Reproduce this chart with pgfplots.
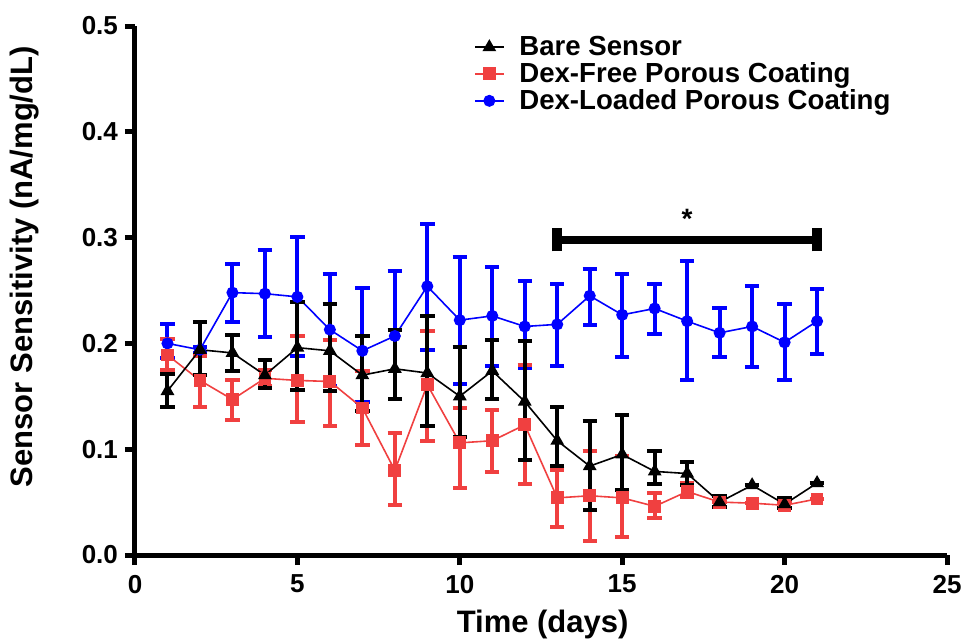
\documentclass[border=0pt]{standalone}
\usepackage{pgfplots}
\usepackage{pgfplotstable}
\pgfplotsset{compat=1.18}
\usepackage{fontspec}
\setmainfont{Liberation Sans}
\definecolor{myred}{RGB}{240,64,64}
\definecolor{myblue}{RGB}{0,0,255}

\pgfplotstableread{
x y hi lo
1 0.155 0.171 0.140
2 0.194 0.220 0.170
3 0.191 0.208 0.174
4 0.170 0.184 0.158
5 0.196 0.239 0.156
6 0.193 0.237 0.155
7 0.170 0.207 0.136
8 0.176 0.213 0.147
9 0.172 0.226 0.122
10 0.150 0.197 0.112
11 0.174 0.203 0.147
12 0.145 0.202 0.090
13 0.108 0.140 0.084
14 0.084 0.127 0.043
15 0.095 0.132 0.061
16 0.079 0.098 0.067
17 0.077 0.088 0.066
18 0.050 0.056 0.045
19 0.066 0.066 0.066
20 0.048 0.054 0.044
21 0.068 0.068 0.068
}\bare

\pgfplotstableread{
x y hi lo
1 0.189 0.204 0.175
2 0.165 0.188 0.140
3 0.147 0.165 0.128
4 0.167 0.175 0.160
5 0.165 0.207 0.126
6 0.164 0.203 0.122
7 0.139 0.174 0.104
8 0.080 0.115 0.047
9 0.161 0.212 0.108
10 0.106 0.139 0.063
11 0.108 0.137 0.078
12 0.123 0.180 0.067
13 0.054 0.080 0.026
14 0.056 0.098 0.013
15 0.054 0.094 0.017
16 0.046 0.059 0.035
17 0.060 0.068 0.055
18 0.050 0.050 0.050
19 0.049 0.049 0.049
20 0.047 0.050 0.044
21 0.053 0.053 0.053
}\dexfree

\pgfplotstableread{
x y hi lo
1 0.200 0.218 0.186
2 0.194 0.197 0.191
3 0.248 0.275 0.220
4 0.247 0.288 0.206
5 0.244 0.301 0.188
6 0.213 0.266 0.160
7 0.193 0.252 0.145
8 0.207 0.268 0.147
9 0.254 0.313 0.194
10 0.222 0.282 0.162
11 0.226 0.272 0.179
12 0.216 0.259 0.177
13 0.218 0.256 0.179
14 0.245 0.270 0.217
15 0.227 0.266 0.187
16 0.233 0.256 0.209
17 0.221 0.278 0.165
18 0.210 0.233 0.187
19 0.216 0.254 0.178
20 0.201 0.237 0.165
21 0.221 0.251 0.190
}\dexloaded

\begin{document}
\begin{tikzpicture}
\path[use as bounding box] (-67.5pt,-44pt) rectangle (417pt,277.5pt);
\begin{axis}[
  at={(0,0)}, anchor=south west,
  scale only axis, width=406pt, height=264.5pt,
  xmin=0, xmax=25, ymin=0, ymax=0.5,
  axis x line*=bottom, axis y line*=left,
  axis line style={-, line width=2.5pt, black},
  xtick={0,5,10,15,20,25}, ytick={0,0.1,0.2,0.3,0.4,0.5},
  tick align=outside, major tick length=5pt,
  tick style={black, line width=2.5pt},
  /pgf/number format/assume math mode=true,
  tick label style={font=\bfseries\fontsize{13}{13}\selectfont},
  xticklabel style={yshift=-1.5pt},
  yticklabel style={/pgf/number format/.cd, fixed, fixed zerofill, precision=1},
  xlabel={Time (days)},
  ylabel={Sensor Sensitivity (nA/mg/dL)},
  xlabel style={at={(axis description cs:0.502,-0.132)}, anchor=center, font=\bfseries\fontsize{15.5}{15.5}\selectfont},
  ylabel style={at={(axis description cs:-0.1355,0.545)}, anchor=center, font=\bfseries\fontsize{15.5}{15.5}\selectfont},
  clip=false,
  reverse legend,
  legend cell align=left,
  legend image code/.code={\draw[mark repeat=2,mark phase=2] plot coordinates {(0cm,0cm) (0.25cm,0cm) (0.5cm,0cm)};},
  legend style={draw=none, fill=none, at={(axis description cs:0.41,0.995)}, anchor=north west,
    font=\bfseries\fontsize{13.8}{13.8}\selectfont, row sep=-1pt, column sep=3.5pt, nodes={inner xsep=4pt, inner ysep=1.5pt}},
  error bars/y dir=both, error bars/y explicit,
  error bars/error bar style={line width=2pt},
  error bars/error mark options={line width=2pt, mark size=3.6pt, rotate=90},
]
\addplot[myblue, line width=0.8pt, mark=*, mark size=2.6pt,
  error bars/error bar style={line width=2pt, myblue}]
  table[x=x, y=y, y error plus expr=\thisrow{hi}-\thisrow{y}, y error minus expr=\thisrow{y}-\thisrow{lo}] {\dexloaded};
\addlegendentry{Dex-Loaded Porous Coating}
\addplot[myred, line width=0.8pt, mark=square*, mark size=2.8pt,
  error bars/error bar style={line width=2pt, myred}]
  table[x=x, y=y, y error plus expr=\thisrow{hi}-\thisrow{y}, y error minus expr=\thisrow{y}-\thisrow{lo}] {\dexfree};
\addlegendentry{Dex-Free Porous Coating}
\addplot[black, line width=0.8pt, mark=triangle*, mark size=3.2pt,
  error bars/error bar style={line width=2pt, black}]
  table[x=x, y=y, y error plus expr=\thisrow{hi}-\thisrow{y}, y error minus expr=\thisrow{y}-\thisrow{lo}] {\bare};
\addlegendentry{Bare Sensor}
\draw[line width=4pt] (axis cs:13,0.298) -- (axis cs:21,0.298);
\draw[line width=5pt] (axis cs:13,0.287) -- (axis cs:13,0.309);
\draw[line width=5pt] (axis cs:21,0.287) -- (axis cs:21,0.309);
\node[anchor=north, inner sep=0pt, font=\bfseries\fontsize{14}{14}\selectfont] at (axis cs:17,0.327) {*};
\end{axis}
\end{tikzpicture}
\end{document}
